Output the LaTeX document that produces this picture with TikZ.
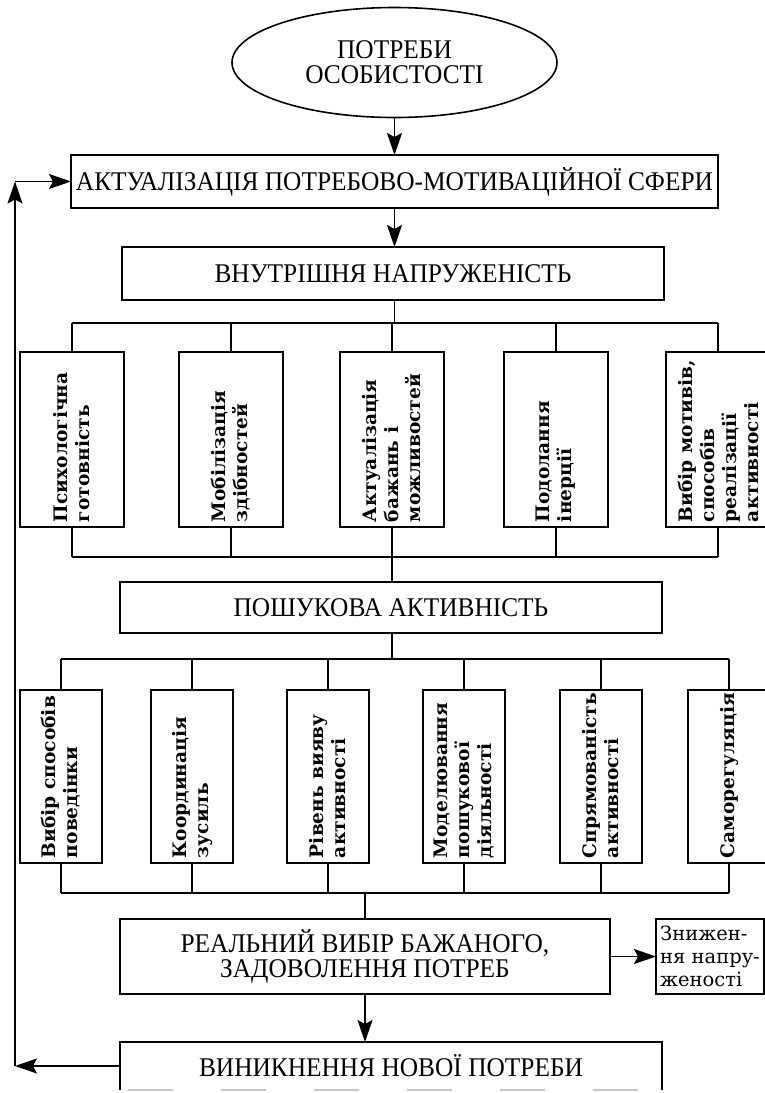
\documentclass[tikz,border=0pt]{standalone}
\usepackage{fontspec}
\setmainfont{Liberation Serif}
\newfontfamily\capsfont[FakeStretch=0.94]{Liberation Serif}
\newfontfamily\bodyfont{DejaVu Serif}
\usetikzlibrary{arrows.meta,shapes.geometric}

\begin{document}
\begin{tikzpicture}[x=1pt,y=-1pt,
  every node/.style={inner sep=0pt, outer sep=0pt},
  frame/.style={draw, line width=1.6pt},
  capsbox/.style={frame, font=\capsfont\fontsize{27}{25}\selectfont, align=center},
  colbox/.style={frame, rectangle},
  coltext/.style={rotate=90, anchor=west, align=left, inner xsep=5pt,
                  font=\bodyfont\bfseries\fontsize{18.6}{22}\selectfont},
  notebox/.style={frame, align=left, inner xsep=3pt,
                  font=\bodyfont\fontsize{19.5}{23}\selectfont},
  wire/.style={line width=1.3pt},
  arrow/.style={wire, -{Stealth[length=22pt,width=15pt,inset=4pt]}}
]
\useasboundingbox (0,0) rectangle (765,1093);

% main column
\node[capsbox, ellipse, minimum width=325pt, minimum height=110pt] (need) at (394.5,62.5) {ПОТРЕБИ\\ОСОБИСТОСТІ};
\node[capsbox, minimum width=647pt, minimum height=53pt] (act) at (394.5,181.5) {АКТУАЛІЗАЦІЯ ПОТРЕБОВО-МОТИВАЦІЙНОЇ СФЕРИ};
\node[capsbox, minimum width=542pt, minimum height=53pt] (tens) at (393,273.5) {ВНУТРІШНЯ НАПРУЖЕНІСТЬ};
\node[capsbox, minimum width=542pt, minimum height=51pt] (search) at (391,607.5) {ПОШУКОВА АКТИВНІСТЬ};
\node[capsbox, minimum width=490pt, minimum height=75pt] (real) at (365,956.5) {РЕАЛЬНИЙ ВИБІР БАЖАНОГО,\\ЗАДОВОЛЕННЯ ПОТРЕБ};
\node[notebox, minimum width=108pt, minimum height=75pt] (drop) at (710,956.5) {Знижен-\\ня напру-\\женості};
\node[capsbox, draw=none, minimum width=542pt, minimum height=48pt] (new) at (391,1066) {ВИНИКНЕННЯ НОВОЇ ПОТРЕБИ};
\draw[line width=1.6pt] (new.south west) -- (new.north west) -- (new.north east) -- (new.south east);
\draw[gray!45, line width=1.6pt, dash pattern=on 45pt off 48pt, dash phase=-8pt] (new.south west) -- (new.south east);

% first row of columns
\foreach \n/\x in {r1a/72, r1b/231, r1c/392, r1d/556, r1e/718}
  \node[colbox, minimum width=104pt, minimum height=175pt] (\n) at (\x,439.5) {};
\node[coltext] (r1a-t) at (r1a.south) {Психологічна\\готовність};
\node[coltext] (r1b-t) at (r1b.south) {Мобілізація\\здібностей};
\node[coltext] (r1c-t) at (r1c.south) {Актуалізація\\бажань і\\можливостей};
\node[coltext] (r1d-t) at (r1d.south) {Подолання\\інерції};
\node[coltext] (r1e-t) at (r1e.south) {Вибір мотивів,\\способів\\реалізації\\активності};

% second row of columns
\foreach \n/\x in {r2a/61, r2b/192, r2c/328, r2d/464, r2e/601, r2f/729}
  \node[colbox, minimum width=82pt, minimum height=173pt] (\n) at (\x,776.5) {};
\node[coltext] (r2a-t) at (r2a.south) {Вибір способів\\поведінки};
\node[coltext] (r2b-t) at (r2b.south) {Координація\\зусиль};
\node[coltext] (r2c-t) at (r2c.south) {Рівень вияву\\активності};
\node[coltext] (r2d-t) at (r2d.south) {Моделювання\\пошукової\\діяльності};
\node[coltext] (r2e-t) at (r2e.south) {Спрямованість\\активності};
\node[coltext] (r2f-t) at (r2f.south) {Саморегуляція};

% bus levels and the feedback line
\coordinate (bus1) at (0,323);
\coordinate (bus1b) at (0,557);
\coordinate (bus2) at (0,659);
\coordinate (bus2b) at (0,893);
\coordinate (fb) at (15,0);

% arrows of the main column
\draw[arrow] (need.south) -- (act.north);
\draw[arrow] (act.south) -- (act.south |- tens.north);
\draw[arrow] (real.south) -- (real.south |- new.north);
\draw[arrow] (real.east) -- (drop.west);

% first fan-out / fan-in
\draw[wire] (act.south |- tens.south) -- (act.south |- bus1);
\draw[wire] (r1a.north |- bus1) -- (r1e.north |- bus1);
\draw[wire] (r1a.south |- bus1b) -- (r1e.south |- bus1b);
\foreach \n in {r1a,r1b,r1c,r1d,r1e} {
  \draw[wire] (\n.north |- bus1) -- (\n.north);
  \draw[wire] (\n.south) -- (\n.south |- bus1b);
}
\draw[wire] (r1c.south |- bus1b) -- (r1c.south |- search.north);

% second fan-out / fan-in
\draw[wire] (r1c.south |- search.south) -- (r1c.south |- bus2);
\draw[wire] (r2a.north |- bus2) -- (r2f.north |- bus2);
\draw[wire] (r2a.south |- bus2b) -- (r2f.south |- bus2b);
\foreach \n in {r2a,r2b,r2c,r2d,r2e,r2f} {
  \draw[wire] (\n.north |- bus2) -- (\n.north);
  \draw[wire] (\n.south) -- (\n.south |- bus2b);
}
\draw[wire] (real.north |- bus2b) -- (real.north);

% feedback loop
\draw[arrow] (new.west) -- (new.west -| fb);
\draw[arrow] (new.west -| fb) -- (act.west -| fb);
\draw[arrow] (act.west -| fb) -- (act.west);
\end{tikzpicture}
\end{document}
